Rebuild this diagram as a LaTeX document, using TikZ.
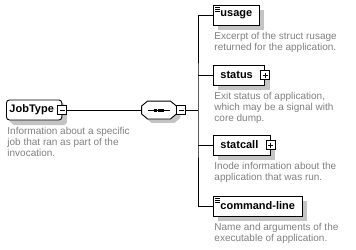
\documentclass[tikz,border=0pt]{standalone}
\usepackage{fontspec}
\setmainfont{Liberation Sans}
\usetikzlibrary{shadows}

\definecolor{notegray}{HTML}{808080}
\definecolor{shadowgray}{HTML}{C4C4C4}

\tikzstyle{elem} = [rectangle, anchor=west, draw=black, fill=white, minimum height=20pt, inner xsep=7pt, inner ysep=0pt, font=\fontsize{11}{13}\selectfont\bfseries, drop shadow={shadow xshift=5pt, shadow yshift=-5pt, fill=shadowgray, opacity=1}]
\tikzstyle{root} = [elem, rounded corners=3pt, inner xsep=3pt, drop shadow={shadow xshift=3pt, shadow yshift=-3pt, fill=shadowgray, opacity=1}]
\tikzstyle{toggled} = [execute at end node={\hspace{5pt}}]
\tikzstyle{simple} = [path picture={\foreach \dy in {2.5,4.5,6.5} \draw [line width=0.8pt] ([xshift=2pt, yshift=-\dy pt]path picture bounding box.north west) -- ++(5pt,0pt);}]
\tikzstyle{note} = [anchor=north west, align=left, inner sep=0pt, text=notegray, font=\fontsize{10}{11}\selectfont, xshift=1pt, yshift=-6pt]
\tikzstyle{collapse} = [rectangle, draw=black, fill=white, minimum size=9pt, inner sep=0pt, path picture={\draw [line width=0.8pt] ([xshift=2pt]path picture bounding box.west) -- ([xshift=-2pt]path picture bounding box.east);}]
\tikzstyle{expand} = [collapse, path picture={\draw [line width=0.8pt] ([xshift=2pt]path picture bounding box.west) -- ([xshift=-2pt]path picture bounding box.east); \draw [line width=0.8pt] ([yshift=-2pt]path picture bounding box.north) -- ([yshift=2pt]path picture bounding box.south);}]
\tikzstyle{seqbox} = [rectangle, minimum width=34pt, minimum height=17pt, inner sep=0pt]
\tikzstyle{octagon} = [draw=black, fill=white, drop shadow={shadow xshift=4pt, shadow yshift=-4pt, fill=shadowgray, opacity=1}]

\begin{document}
\begin{tikzpicture}[x=1pt, y=-1pt, line width=0.9pt]
\useasboundingbox (0,0) rectangle (356,249);

% root type and its sequence
\node (jobtype) [root, toggled] at (6,110) {JobType};
\node (jobtypeminus) [collapse] at (jobtype.east) {};
\node (jobtypenote) [note] at (jobtype.south west) {Information about a specific\\job that ran as part of the\\invocation.};
\node (seq) [seqbox] at (159,110) {};
\path [octagon] ([xshift=6pt]seq.north west) -- ([xshift=-6pt]seq.north east) -- ([yshift=-5pt]seq.north east) -- ([yshift=5pt]seq.south east) -- ([xshift=-6pt]seq.south east) -- ([xshift=6pt]seq.south west) -- ([yshift=5pt]seq.south west) -- ([yshift=-5pt]seq.north west) -- cycle;
\draw ([xshift=6pt]seq.west) -- ([xshift=-6pt]seq.east);
\foreach \dx in {-3.5,0,3.5}
  \fill ([xshift=\dx pt]seq.center) ++(-1.5pt,-1.5pt) rectangle ++(3pt,3pt);
\node (seqminus) [collapse, anchor=west] at (seq.east) {};
\coordinate (spine) at (198,110);

% child elements
\node (usage) [elem, simple] at (213,15) {usage};
\node (usagenote) [note] at (usage.south west) {Excerpt of the struct rusage\\returned for the application.};
\node (status) [elem, toggled] at (213,75) {status};
\node (statusplus) [expand] at (status.east) {};
\node (statusnote) [note] at (status.south west) {Exit status of application,\\which may be a signal with\\core dump.};
\node (statcall) [elem, toggled] at (213,145) {statcall};
\node (statcallplus) [expand] at (statcall.east) {};
\node (statcallnote) [note] at (statcall.south west) {Inode information about the\\application that was run.};
\node (cmdline) [elem, simple] at (213,206) {command-line};
\node (cmdlinenote) [note] at (cmdline.south west) {Name and arguments of the\\executable of application.};

\draw (jobtypeminus) -- (seq);
\draw (seqminus) -- (spine);
\draw (usage.west) -| (spine) |- (cmdline.west);
\draw (status.west) -- (status.west -| spine);
\draw (statcall.west) -- (statcall.west -| spine);
\end{tikzpicture}
\end{document}
